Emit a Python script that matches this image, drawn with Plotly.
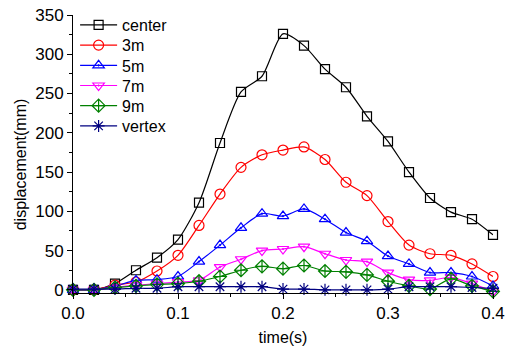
import plotly.graph_objects as go

time_s = [0.00, 0.02, 0.04, 0.06, 0.08, 0.10, 0.12, 0.14, 0.16, 0.18, 0.20,
          0.22, 0.24, 0.26, 0.28, 0.30, 0.32, 0.34, 0.36, 0.38, 0.40]

center = [0, 0, 8, 25, 41, 64, 111, 187, 252, 272, 326, 311, 281, 258, 221, 189, 150, 117, 99, 90, 70]
m3 = [0, 0, 6, 10, 24, 44, 82, 122, 156, 172, 178, 182, 166, 137, 120, 87, 57, 46, 44, 33, 17]
m5 = [0, 0, 5, 12, 13, 17, 36, 57, 79, 97, 94, 103, 90, 73, 62, 43, 33, 22, 22, 17, 5]
m7 = [0, 0, 3, 6, 8, 10, 12, 29, 39, 50, 52, 55, 46, 38, 36, 22, 13, 12, 16, 8, -2]
m9 = [0, 0, 3, 5, 7, 8, 11, 17, 25, 30, 27, 31, 24, 23, 19, 11, 5, 1, 14, 5, -2]
vertex = [1, 1, 1, 2, 2, 4, 4, 4, 4, 4, 1, 1, 0, 0, 0, 1, 4, 4, 4, 3, 2]

series_names = ["center", "3m", "5m", "7m", "9m", "vertex"]
series_values = [center, m3, m5, m7, m9, vertex]
colors = ["#000000", "#FF0000", "#0000FF", "#FF00FF", "#008000", "#000080"]
symbols = ["square-open", "circle-open", "triangle-up-open-dot",
           "triangle-down-open-dot", "diamond-cross-open", "asterisk-open"]
sizes = [9, 10, 10, 10, 10, 10]

W, H = 515, 351
ML, MR, MT, MB = 73, 22, 15, 58
plot_h = H - MT - MB

fig = go.Figure()
legend_layout = {}
for i, (name, vals, col, sym, sz) in enumerate(zip(series_names, series_values, colors, symbols, sizes)):
    lg = "legend" if i == 0 else f"legend{i + 1}"
    fig.add_trace(go.Scatter(
        x=time_s, y=vals, name=name, mode="lines+markers", legend=lg,
        line=dict(color=col, width=1.2, shape="spline", smoothing=0.7),
        marker=dict(symbol=sym, size=sz, color=col, line=dict(color=col, width=1.2)),
        cliponaxis=False,
    ))
    row_center_px = 25 + 20.2 * i
    legend_layout[lg] = dict(
        x=0.005, y=(H - MB - row_center_px) / plot_h,
        xanchor="left", yanchor="middle",
        bgcolor="rgba(0,0,0,0)", borderwidth=0,
        font=dict(size=16), itemwidth=37,
    )

font_family = "Liberation Sans, Arial, sans-serif"
fig.update_layout(
    width=W, height=H,
    margin=dict(l=ML, r=MR, t=MT, b=MB, autoexpand=False),
    paper_bgcolor="white", plot_bgcolor="white",
    font=dict(family=font_family, size=16, color="black"),
    showlegend=True,
    xaxis=dict(range=[0, 0.4], dtick=0.1, tick0=0, tickformat=".1f",
               showline=True, linecolor="black", linewidth=1,
               ticks="outside", ticklen=5, tickwidth=1, tickcolor="black",
               minor=dict(dtick=0.05, ticks="outside", ticklen=3, tickcolor="black"),
               showgrid=False, zeroline=False, automargin=False,
               tickfont=dict(size=17),
               title=dict(text="time(s)", font=dict(size=16), standoff=9)),
    yaxis=dict(range=[-4, 350], dtick=50, tick0=0,
               showline=True, linecolor="black", linewidth=1,
               ticks="outside", ticklen=5, tickwidth=1, tickcolor="black",
               minor=dict(dtick=25, ticks="outside", ticklen=3, tickcolor="black"),
               showgrid=False, zeroline=False, automargin=False,
               tickfont=dict(size=17)),
    annotations=[dict(text="displacement(mm)", textangle=-90, xref="paper", yref="y",
                      x=-0.126, y=160, xanchor="center", yanchor="middle",
                      showarrow=False, font=dict(size=16))],
    **legend_layout,
)

fig.write_html("out.html")
